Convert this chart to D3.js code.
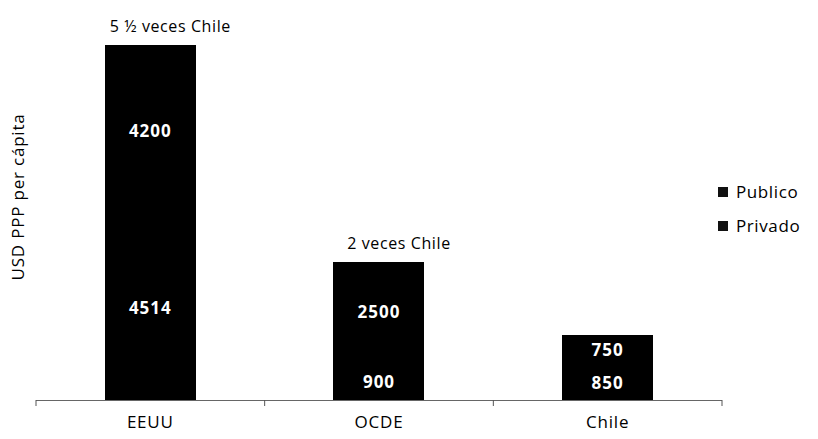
<!DOCTYPE html>
<html>
<head>
<meta charset="utf-8">
<script src="https://cdn.jsdelivr.net/npm/d3@7"></script>
<style>
  html, body { margin: 0; padding: 0; background: #fff; }
  svg { display: block; }
  text { font-family: "Open Sans", "Noto Sans", sans-serif; }
</style>
</head>
<body>
<svg id="chart" width="818" height="439"></svg>
<script>
const categories = ["EEUU", "OCDE", "Chile"];
const seriesNames = ["Privado", "Publico"];
const privado = [4514, 900, 850];
const publico = [4200, 2500, 750];
const notes = ["5 \u00BD veces Chile", "2 veces Chile", ""];
const legendNames = ["Publico", "Privado"];

const svg = d3.select("#chart");
const x0 = 36, x1 = 722, yBase = 400;

const x = d3.scaleBand().domain(categories).range([x0, x1]).paddingInner(0.6).paddingOuter(0.3);
const y = d3.scaleLinear().domain([0, 9000]).range([yBase, 33.4]);

const rows = categories.map((c, i) => ({ cat: c, Privado: privado[i], Publico: publico[i] }));
const stacked = d3.stack().keys(seriesNames)(rows);
const colors = { Privado: "#000000", Publico: "#000000" };

const g = svg.append("g").attr("shape-rendering", "crispEdges");
stacked.forEach(layer => {
  g.selectAll(null).data(layer).enter().append("rect")
    .attr("x", d => Math.round(x(d.data.cat)))
    .attr("width", Math.round(x.bandwidth()))
    .attr("y", d => Math.round(y(d[1])))
    .attr("height", d => Math.round(y(d[0])) - Math.round(y(d[1])))
    .attr("fill", colors[layer.key]);
});
const tg = svg.append("g");
stacked.forEach(layer => {
  tg.selectAll(null).data(layer).enter().append("text")
    .attr("x", d => x(d.data.cat) + x.bandwidth() / 2)
    .attr("y", d => (y(d[0]) + y(d[1])) / 2)
    .attr("dy", "0.35em")
    .attr("text-anchor", "middle")
    .attr("fill", "#fff")
    .attr("font-weight", "bold")
    .attr("font-size", 17)
    .attr("letter-spacing", 1)
    .text(d => d.data[layer.key]);
});

// x axis: line with ticks at band boundaries
const axisG = svg.append("g");
axisG.append("line").attr("x1", x0).attr("x2", x1).attr("y1", yBase + 0.5).attr("y2", yBase + 0.5)
  .attr("stroke", "#666").attr("stroke-width", 1);
const boundaries = d3.range(categories.length + 1).map(i => x0 + i * (x1 - x0) / categories.length);
axisG.selectAll(null).data(boundaries).enter().append("line")
  .attr("x1", d => d).attr("x2", d => d).attr("y1", yBase).attr("y2", yBase + 6)
  .attr("stroke", "#555");
axisG.selectAll(null).data(categories).enter().append("text")
  .attr("x", d => x(d) + x.bandwidth() / 2)
  .attr("y", 428)
  .attr("text-anchor", "middle")
  .attr("font-size", 17)
  .attr("letter-spacing", 0.8)
  .attr("fill", "#000")
  .text(d => d);

// notes above bars
svg.selectAll(null).data(categories.map((c, i) => ({ c, i })).filter(d => notes[d.i])).enter().append("text")
  .attr("x", d => x(d.c) + x.bandwidth() / 2 + 20)
  .attr("y", d => y(privado[d.i] + publico[d.i]) - 13)
  .attr("text-anchor", "middle")
  .attr("font-size", 16)
  .attr("letter-spacing", 0.6)
  .attr("fill", "#000")
  .text(d => notes[d.i]);

// y axis title
svg.append("text")
  .attr("transform", "translate(24,197) rotate(-90)")
  .attr("text-anchor", "middle")
  .attr("font-size", 17)
  .attr("letter-spacing", 0.8)
  .attr("fill", "#000")
  .text("USD PPP per c\u00E1pita");

// legend
const lg = svg.append("g").attr("transform", "translate(718,192)");
legendNames.forEach((n, i) => {
  lg.append("rect").attr("x", 0).attr("y", i * 34 - 5).attr("width", 10).attr("height", 10).attr("fill", "#111");
  lg.append("text").attr("x", 18).attr("y", i * 34).attr("dy", "0.35em")
    .attr("font-size", 17).attr("letter-spacing", 0.6).attr("fill", "#000").text(n);
});
</script>
</body>
</html>
